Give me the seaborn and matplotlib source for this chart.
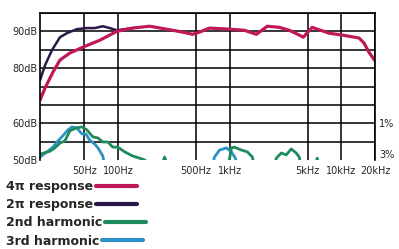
import seaborn as sns
import pandas as pd
import numpy as np
from matplotlib import pyplot as plt

# frequency response (dB, upper scale)
resp4_freq = [20, 22.2, 26.1, 30.2, 37, 48.4, 68.7, 84.3, 97.4, 135, 192, 272, 378, 465, 537,
              659, 994, 1352, 1732, 2172, 2780, 3414, 4192, 4552, 5476, 7765, 10140, 14394,
              15960, 17680, 20000]
resp4_db = [71.3, 74.6, 78.9, 82.2, 84.1, 85.7, 87.6, 89.0, 90.0, 90.9, 91.4, 90.6, 89.8, 89.2, 89.8,
            90.9, 90.6, 90.3, 89.2, 91.4, 91.1, 90.3, 89.0, 88.4, 91.1, 89.5, 89.0, 88.2,
            86.8, 84.3, 82.0]

resp2_freq = [20, 22.2, 25.6, 28.4, 30.2, 34.8, 42.8, 52.6, 62, 73, 84.3, 97.4, 135]
resp2_db = [76.7, 80.8, 84.9, 87.1, 88.4, 89.5, 90.6, 90.9, 90.9, 91.4, 90.9, 90.3, 90.9]

# harmonics (dB, lower scale: 50dB at bottom, 60dB two rows up)
harm2_freq = [20, 24.6, 27.2, 30.2, 33.4, 37, 42, 47.4, 52.6, 59.4,
              66, 73, 81, 89.7, 99.4, 115, 135, 163, 173, 235,
              261, 290, 954, 1036, 1102, 1274, 1440, 1596, 1700, 2456,
              2612, 2896, 3208, 3556, 3940, 4192, 4460, 5650, 6072, 6520]
harm2_db = [51.6, 52.4, 53.3, 54.6, 55.2, 57.9, 58.7, 59.0, 58.2, 56.3,
            56.0, 54.9, 54.9, 53.5, 53.5, 52.2, 51.1, 50.3, 50.0, 47,
            50.8, 47, 47, 53.3, 53.5, 52.7, 52.2, 50.8, 47, 47,
            50.5, 51.9, 51.4, 53.0, 51.9, 50.8, 47, 47, 50.5, 47]

harm3_freq = [20, 23.1, 26.1, 29, 31.4, 35.6, 38.6, 42.8, 47.4, 51.5, 55.8, 62, 66, 73, 77.6,
              687, 730, 810, 935, 1036, 1124, 1200]
harm3_db = [50.8, 52.2, 53.5, 55.2, 56.3, 58.2, 59.0, 58.7, 57.1, 57.1, 55.4, 54.3, 53.3, 51.1, 47,
            47, 50.8, 52.7, 53.3, 52.2, 50.5, 47]

xticks = [50, 100, 500, 1000, 5000, 10000, 20000]
xlabels = ['50Hz', '100Hz', '500Hz', '1kHz', '5kHz', '10kHz', '20kHz']
HARM_OFFSET = 5  # lower scale is shifted 5dB against the upper one

sns.set_style('white')
plt.rcParams['font.family'] = ['DejaVu Sans']

fig = plt.figure(figsize=(3.99, 2.49), dpi=100)
ax = fig.add_axes([40 / 399, 1 - 160 / 249, 335 / 399, 147 / 249])

series = [
    ('3rd harmonic', harm3_freq, np.array(harm3_db) + HARM_OFFSET, '#2b92c4', 2.0),
    ('2nd harmonic', harm2_freq, np.array(harm2_db) + HARM_OFFSET, '#1f8a5c', 2.0),
    ('2\u03c0 response', resp2_freq, resp2_db, '#2a1848', 1.8),
    ('4\u03c0 response', resp4_freq, resp4_db, '#c01858', 2.3),
]
handles = {}
for name, f, db, col, lw in series:
    df = pd.DataFrame({'freq': f, 'level': db})
    sns.lineplot(data=df, x='freq', y='level', color=col, lw=lw, ax=ax, sort=False)
    handles[name] = plt.Line2D([], [], color=col, lw=3)

ax.set_xscale('log')
ax.set_xlim(20, 20000)
ax.set_ylim(55, 95)
ax.set_xticks(xticks, xlabels)
ax.xaxis.set_minor_locator(plt.NullLocator())
ax.set_yticks(range(55, 96, 5),
              ['50dB', '', '60dB', '', '', '80dB', '', '90dB', ''])
ax.grid(True, color='black', lw=1.1)
ax.get_yaxis().get_major_ticks()[0].gridline.set_visible(False)
ax.tick_params(length=0, labelsize=7, pad=2)
ax.tick_params(axis='x', pad=4)
ax.set_xlabel('')
ax.set_ylabel('')
for s in ['top', 'left', 'right']:
    ax.spines[s].set_color('black')
    ax.spines[s].set_linewidth(1.2)
ax.spines['bottom'].set_visible(False)

ax2 = ax.twinx()
ax2.set_ylim(55, 95)
ax2.set_yticks([65, 55], ['1%', '3%'])
ax2.tick_params(length=0, labelsize=7, pad=3)
for s in ax2.spines.values():
    s.set_visible(False)
for lbl in ax2.get_yticklabels():
    if lbl.get_text() == '3%':
        lbl.set_va('bottom')

order = ['4\u03c0 response', '2\u03c0 response', '2nd harmonic', '3rd harmonic']
leg = fig.legend([handles[k] for k in order], order, loc='upper left',
                 bbox_to_anchor=(6 / 399, 1 - 180 / 249), frameon=False, markerfirst=False,
                 prop={'weight': 'bold', 'size': 9}, handlelength=3.3, handletextpad=0.2,
                 labelspacing=0.42, borderpad=0, borderaxespad=0)
# keep label text left aligned, handle right after it
for col in leg._legend_handle_box.get_children():
    col.align = 'left'

fig.savefig('out.png', dpi=100)
